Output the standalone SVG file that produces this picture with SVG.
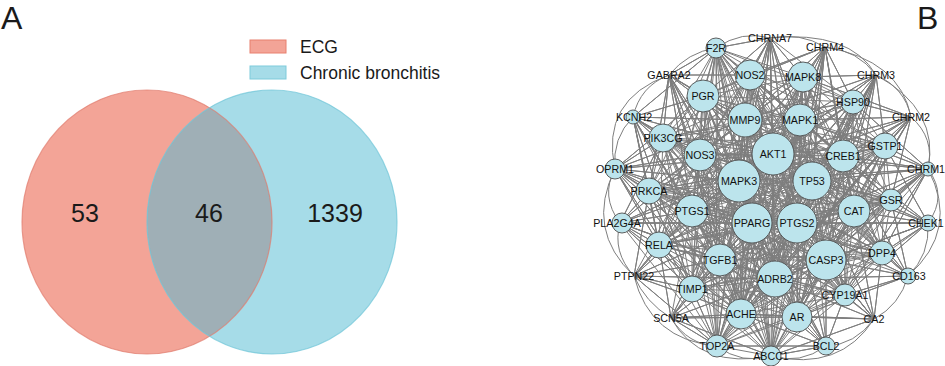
<svg xmlns="http://www.w3.org/2000/svg" width="945" height="366" viewBox="0 0 945 366">
<style>
.lbl{font-family:"Liberation Sans",Arial,sans-serif;fill:#1a1a1a}
.e{fill:none;stroke:#7e7e7e;stroke-width:1;stroke-linejoin:round}
.n circle{fill:#BCE4EC;stroke:#4d4d4d;stroke-width:0.9}
.n text{font-family:"Liberation Sans",Arial,sans-serif;font-size:10.7px;fill:#111;text-anchor:middle}
</style>
<defs>
<clipPath id="clipL"><ellipse cx="147" cy="222" rx="125" ry="132"/></clipPath>
</defs>
<rect width="945" height="366" fill="#ffffff"/>
<text class="lbl" x="1" y="29" font-size="32">A</text>
<text class="lbl" x="917" y="29" font-size="32">B</text>
<g id="venn">
<ellipse cx="147" cy="222" rx="125" ry="132" fill="#F3A497"/>
<ellipse cx="272" cy="222" rx="125" ry="132" fill="#A6DCE8"/>
<ellipse cx="272" cy="222" rx="125" ry="132" fill="#9FAFB6" clip-path="url(#clipL)"/>
<ellipse cx="147" cy="222" rx="125" ry="132" fill="none" stroke="#E07A6C" stroke-opacity="0.7" stroke-width="1.2"/>
<ellipse cx="272" cy="222" rx="125" ry="132" fill="none" stroke="#6EC4D7" stroke-opacity="0.7" stroke-width="1.2"/>
<text class="lbl" x="85" y="222" font-size="25" text-anchor="middle">53</text>
<text class="lbl" x="209" y="222" font-size="25" text-anchor="middle">46</text>
<text class="lbl" x="335" y="222" font-size="25" text-anchor="middle">1339</text>
</g>
<g id="legend">
<rect x="250" y="40" width="36" height="13" fill="#F3A497" stroke="#E8806F" stroke-width="1"/>
<text class="lbl" x="300" y="53" font-size="17.5">ECG</text>
<rect x="250" y="66" width="36" height="13" fill="#A6DCE8" stroke="#7ECBDB" stroke-width="1"/>
<text class="lbl" x="300" y="79" font-size="17.5">Chronic bronchitis</text>
</g>
<g id="connectors">
<path class="e" d="M716 48L750 75 803 77 703 96 853 102 745 120 800 120 663 138 885 146 700 155 773 154 843 156 739 181 812 181 649 191 891 200 854 211 692 211 752 223 797 223 659 245 882 253 720 260 826 260 775 279 692 289 845 295 741 314 797 317 717 346 771 356 716 48
803 77 853 102 800 120 885 146 773 154 739 181 649 191 854 211 752 223 659 245 720 260 775 279 845 295 797 317 771 356 750 75 703 96 745 120 663 138 700 155 843 156 812 181 891 200 692 211 797 223 882 253 826 260 692 289 741 314 717 346 716 48
703 96 800 120 700 155 739 181 891 200 752 223 882 253 775 279 741 314 771 356 803 77 745 120 885 146 843 156 649 191 692 211 659 245 826 260 845 295 717 346 750 75 853 102 663 138 773 154 812 181 854 211 797 223 720 260 692 289 797 317 716 48
853 102 885 146 739 181 854 211 659 245 775 279 797 317 750 75 745 120 700 155 812 181 692 211 882 253 692 289 717 346 803 77 800 120 773 154 649 191 752 223 720 260 845 295 771 356 703 96 663 138 843 156 891 200 797 223 826 260 741 314 716 48
745 120 773 154 891 200 659 245 692 289 771 356 853 102 700 155 649 191 797 223 775 279 717 346 703 96 885 146 812 181 752 223 826 260 797 317 803 77 663 138 739 181 692 211 720 260 741 314 750 75 800 120 843 156 854 211 882 253 845 295 716 48
800 120 739 181 752 223 775 279 771 356 745 120 843 156 692 211 826 260 717 346 853 102 773 154 854 211 720 260 797 317 703 96 700 155 891 200 882 253 741 314 803 77 885 146 649 191 659 245 845 295 750 75 663 138 812 181 797 223 692 289 716 48
663 138 649 191 882 253 797 317 853 102 843 156 752 223 692 289 750 75 885 146 891 200 720 260 717 346 745 120 739 181 797 223 845 295 803 77 700 155 854 211 826 260 771 356 800 120 812 181 659 245 741 314 703 96 773 154 692 211 775 279 716 48
885 146 854 211 775 279 750 75 700 155 692 211 692 289 803 77 773 154 752 223 845 295 703 96 843 156 797 223 741 314 853 102 739 181 659 245 797 317 745 120 812 181 882 253 717 346 800 120 649 191 720 260 771 356 663 138 891 200 826 260 716 48
700 155 752 223 741 314 745 120 649 191 826 260 750 75 773 154 797 223 797 317 800 120 891 200 775 279 803 77 843 156 659 245 717 346 663 138 854 211 692 289 703 96 739 181 882 253 771 356 885 146 692 211 845 295 853 102 812 181 720 260 716 48
773 154 659 245 771 356 700 155 797 223 717 346 885 146 752 223 797 317 663 138 692 211 741 314 800 120 854 211 845 295 745 120 891 200 692 289 853 102 649 191 775 279 703 96 812 181 826 260 803 77 739 181 720 260 750 75 843 156 882 253 716 48
843 156 720 260 803 77 812 181 775 279 853 102 891 200 845 295 800 120 692 211 797 317 885 146 797 223 771 356 773 154 882 253 750 75 739 181 826 260 703 96 649 191 692 289 745 120 854 211 741 314 663 138 752 223 717 346 700 155 659 245 716 48
739 181 775 279 745 120 692 211 717 346 773 154 720 260 703 96 891 200 741 314 885 146 659 245 750 75 812 181 692 289 800 120 752 223 771 356 843 156 826 260 853 102 854 211 797 317 700 155 882 253 803 77 649 191 845 295 663 138 797 223 716 48
812 181 845 295 885 146 882 253 703 96 854 211 717 346 843 156 775 279 800 120 797 223 750 75 649 191 741 314 700 155 720 260 853 102 692 211 771 356 739 181 692 289 663 138 659 245 803 77 891 200 797 317 773 154 826 260 745 120 752 223 716 48
649 191 797 317 843 156 692 289 885 146 720 260 745 120 797 223 803 77 854 211 771 356 812 181 741 314 773 154 775 279 663 138 882 253 853 102 752 223 750 75 891 200 717 346 739 181 845 295 700 155 826 260 800 120 659 245 703 96 692 211 716 48
891 200 771 356 649 191 717 346 812 181 797 317 739 181 741 314 843 156 845 295 773 154 692 289 700 155 775 279 885 146 826 260 663 138 720 260 800 120 882 253 745 120 659 245 853 102 797 223 703 96 752 223 803 77 692 211 750 75 854 211 716 48"/>
<path class="e" d="M770 38L716 48 770 38 750 75 770 38 803 77 770 38 703 96 770 38 745 120 770 38 800 120 770 38 773 154 770 38 739 181 770 38 812 181 770 38 752 223 770 38 797 223 770 38 775 279 770 38 741 314 770 38 700 155 770 38 853 102
M825 47L750 75 825 47 803 77 825 47 853 102 825 47 745 120 825 47 800 120 825 47 773 154 825 47 843 156 825 47 739 181 825 47 812 181 825 47 797 223 825 47 775 279 825 47 741 314 825 47 703 96 825 47 854 211 825 47 797 317
M876 75L803 77 876 75 853 102 876 75 800 120 876 75 773 154 876 75 843 156 876 75 885 146 876 75 812 181 876 75 854 211 876 75 797 223 876 75 741 314 876 75 775 279 876 75 745 120 876 75 826 260 876 75 797 317 876 75 739 181
M911 117L853 102 911 117 885 146 911 117 843 156 911 117 800 120 911 117 773 154 911 117 812 181 911 117 854 211 911 117 891 200 911 117 797 223 911 117 741 314 911 117 775 279 911 117 826 260 911 117 803 77 911 117 739 181 911 117 797 317
M928 169L885 146 928 169 843 156 928 169 891 200 928 169 854 211 928 169 812 181 928 169 773 154 928 169 797 223 928 169 853 102 928 169 800 120 928 169 826 260 928 169 882 253 928 169 741 314 928 169 775 279 928 169 739 181 928 169 845 295 928 169 797 317
M669 75L716 48 669 75 703 96 669 75 663 138 669 75 700 155 669 75 745 120 669 75 739 181 669 75 750 75 669 75 692 211 669 75 649 191 669 75 752 223 669 75 773 154 669 75 720 260 669 75 741 314 669 75 775 279
M633 117L663 138 633 117 703 96 633 117 700 155 633 117 649 191 633 117 692 211 633 117 739 181 633 117 745 120 633 117 716 48 633 117 659 245 633 117 752 223 633 117 773 154 633 117 720 260 633 117 692 289 633 117 741 314
M615 169L663 138 615 169 649 191 615 169 700 155 615 169 692 211 615 169 659 245 615 169 739 181 615 169 752 223 615 169 703 96 615 169 745 120 615 169 773 154 615 169 797 223 615 169 720 260 615 169 692 289 615 169 741 314 615 169 775 279
M620 223L649 191 620 223 692 211 620 223 659 245 620 223 663 138 620 223 700 155 620 223 739 181 620 223 752 223 620 223 720 260 620 223 692 289 620 223 797 223 620 223 773 154 620 223 741 314 620 223 775 279 620 223 717 346
M634 276L659 245 634 276 692 289 634 276 720 260 634 276 692 211 634 276 649 191 634 276 752 223 634 276 739 181 634 276 741 314 634 276 775 279 634 276 717 346 634 276 700 155
M671 318L692 289 671 318 741 314 671 318 717 346 671 318 720 260 671 318 659 245 671 318 752 223 671 318 739 181 671 318 775 279 671 318 797 317 671 318 771 356 671 318 797 223 671 318 692 211
M874 319L845 295 874 319 797 317 874 319 826 260 874 319 775 279 874 319 797 223 874 319 854 211 874 319 882 253 874 319 771 356 874 319 812 181 874 319 741 314 874 319 752 223
M908 276L882 253 908 276 845 295 908 276 826 260 908 276 854 211 908 276 797 223 908 276 812 181 908 276 891 200 908 276 775 279 908 276 797 317 908 276 843 156 908 276 752 223
M928 223L891 200 928 223 854 211 928 223 882 253 928 223 826 260 928 223 812 181 928 223 797 223 928 223 843 156 928 223 773 154 928 223 885 146 928 223 845 295 928 223 775 279 928 223 752 223 928 223 797 317
M826 346L797 317 826 346 771 356 826 346 845 295 826 346 775 279 826 346 741 314 826 346 826 260 826 346 797 223 826 346 752 223 826 346 717 346 826 346 720 260 826 346 739 181 826 346 812 181"/>
<path class="e" d="M716 48Q742 30 770 38M770 38Q800 32 825 47M825 47Q858 50 876 75M876 75Q905 88 911 117M911 117Q935 138 928 169M928 169Q948 196 928 223M876 75Q940 110 928 169M825 47Q900 60 911 117M928 223Q930 255 908 276M908 276Q900 305 874 319M874 319Q855 345 826 346M826 346Q800 365 771 356M771 356Q742 365 717 346M717 346Q688 345 671 318M671 318Q645 302 634 276M634 276Q612 252 620 223M620 223Q600 196 615 169M615 169Q612 138 633 117M633 117Q640 86 669 75M669 75Q688 52 716 48M634 276Q650 340 717 346M671 318Q700 370 771 356M874 319Q840 372 771 356M928 169Q960 230 908 276M615 169Q585 230 634 276M669 75Q600 100 615 169M770 38Q850 30 876 75"/>
</g>
<g id="n-F2R" class="n"><circle cx="716" cy="48" r="10"/><text x="716" y="51.8">F2R</text></g>
<g id="n-CHRNA7" class="n"><text x="770" y="41.8">CHRNA7</text></g>
<g id="n-CHRM4" class="n"><text x="825" y="50.8">CHRM4</text></g>
<g id="n-CHRM3" class="n"><text x="876" y="78.8">CHRM3</text></g>
<g id="n-GABRA2" class="n"><text x="669" y="78.8">GABRA2</text></g>
<g id="n-CHRM2" class="n"><text x="911" y="120.8">CHRM2</text></g>
<g id="n-NOS2" class="n"><circle cx="750" cy="75" r="15"/><text x="750" y="78.8">NOS2</text></g>
<g id="n-MAPK8" class="n"><circle cx="803" cy="77" r="15"/><text x="803" y="80.8">MAPK8</text></g>
<g id="n-PGR" class="n"><circle cx="703" cy="96" r="16"/><text x="703" y="99.8">PGR</text></g>
<g id="n-HSP90" class="n"><circle cx="853" cy="102" r="12"/><text x="853" y="105.8">HSP90</text></g>
<g id="n-KCNH2" class="n"><circle cx="633" cy="117" r="7"/><text x="634" y="120.8">KCNH2</text></g>
<g id="n-MMP9" class="n"><circle cx="745" cy="120" r="17"/><text x="745" y="123.8">MMP9</text></g>
<g id="n-MAPK1" class="n"><circle cx="800" cy="120" r="16"/><text x="800" y="123.8">MAPK1</text></g>
<g id="n-PIK3CG" class="n"><circle cx="663" cy="138" r="14"/><text x="663" y="141.8">PIK3CG</text></g>
<g id="n-GSTP1" class="n"><circle cx="885" cy="146" r="13"/><text x="885" y="149.8">GSTP1</text></g>
<g id="n-NOS3" class="n"><circle cx="700" cy="155" r="16"/><text x="700" y="158.8">NOS3</text></g>
<g id="n-AKT1" class="n"><circle cx="773" cy="154" r="21"/><text x="773" y="157.8">AKT1</text></g>
<g id="n-CREB1" class="n"><circle cx="843" cy="156" r="16"/><text x="843" y="159.8">CREB1</text></g>
<g id="n-OPRM1" class="n"><circle cx="615" cy="169" r="10"/><text x="615" y="172.8">OPRM1</text></g>
<g id="n-CHRM1" class="n"><circle cx="928" cy="169" r="7"/><text x="926" y="172.8">CHRM1</text></g>
<g id="n-MAPK3" class="n"><circle cx="739" cy="181" r="21"/><text x="739" y="184.8">MAPK3</text></g>
<g id="n-TP53" class="n"><circle cx="812" cy="181" r="19"/><text x="812" y="184.8">TP53</text></g>
<g id="n-PRKCA" class="n"><circle cx="649" cy="191" r="13"/><text x="649" y="194.8">PRKCA</text></g>
<g id="n-GSR" class="n"><circle cx="891" cy="200" r="11"/><text x="891" y="203.8">GSR</text></g>
<g id="n-CAT" class="n"><circle cx="854" cy="211" r="16"/><text x="854" y="214.8">CAT</text></g>
<g id="n-PTGS1" class="n"><circle cx="692" cy="211" r="16"/><text x="692" y="214.8">PTGS1</text></g>
<g id="n-PPARG" class="n"><circle cx="752" cy="223" r="20"/><text x="752" y="226.8">PPARG</text></g>
<g id="n-PTGS2" class="n"><circle cx="797" cy="223" r="20"/><text x="797" y="226.8">PTGS2</text></g>
<g id="n-PLA2G4A" class="n"><circle cx="622" cy="223" r="10"/><text x="617" y="226.8">PLA2G4A</text></g>
<g id="n-CHEK1" class="n"><circle cx="928" cy="223" r="8"/><text x="926" y="226.8">CHEK1</text></g>
<g id="n-RELA" class="n"><circle cx="659" cy="245" r="13"/><text x="659" y="248.8">RELA</text></g>
<g id="n-DPP4" class="n"><circle cx="882" cy="253" r="12"/><text x="882" y="256.8">DPP4</text></g>
<g id="n-TGFB1" class="n"><circle cx="720" cy="260" r="16"/><text x="720" y="263.8">TGFB1</text></g>
<g id="n-CASP3" class="n"><circle cx="826" cy="260" r="20"/><text x="826" y="263.8">CASP3</text></g>
<g id="n-CD163" class="n"><circle cx="908" cy="276" r="8"/><text x="909" y="279.8">CD163</text></g>
<g id="n-PTPN22" class="n"><text x="634" y="279.8">PTPN22</text></g>
<g id="n-ADRB2" class="n"><circle cx="775" cy="279" r="18"/><text x="775" y="282.8">ADRB2</text></g>
<g id="n-TIMP1" class="n"><circle cx="692" cy="289" r="13"/><text x="692" y="292.8">TIMP1</text></g>
<g id="n-CYP19A1" class="n"><circle cx="845" cy="295" r="11"/><text x="845" y="298.8">CYP19A1</text></g>
<g id="n-SCN5A" class="n"><text x="671" y="321.8">SCN5A</text></g>
<g id="n-ACHE" class="n"><circle cx="741" cy="314" r="15"/><text x="741" y="317.8">ACHE</text></g>
<g id="n-AR" class="n"><circle cx="797" cy="317" r="15"/><text x="797" y="320.8">AR</text></g>
<g id="n-CA2" class="n"><text x="874" y="322.8">CA2</text></g>
<g id="n-TOP2A" class="n"><circle cx="717" cy="346" r="11"/><text x="717" y="349.8">TOP2A</text></g>
<g id="n-BCL2" class="n"><circle cx="826" cy="346" r="9"/><text x="826" y="349.8">BCL2</text></g>
<g id="n-ABCC1" class="n"><circle cx="771" cy="356" r="10"/><text x="771" y="359.8">ABCC1</text></g>
</svg>
